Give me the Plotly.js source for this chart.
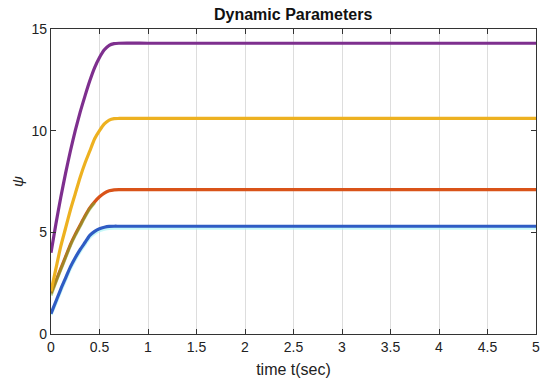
<!DOCTYPE html>
<html>
<head>
<meta charset="utf-8">
<script src="https://cdn.plot.ly/plotly-3.0.1.min.js"></script>
<style>html,body{margin:0;padding:0;background:#fff;}#chart{width:550px;height:390px;}</style>
</head>
<body>
<div id="chart"></div>
<script>
const time = [0, 0.05, 0.1, 0.15, 0.2, 0.25, 0.3, 0.35, 0.4, 0.45, 0.5, 0.55, 0.6, 0.65, 0.7, 1, 1.5, 2, 2.5, 3, 3.5, 4, 4.5, 5];
const psiBlue   = [1.0, 1.6, 2.2, 2.75, 3.3, 3.75, 4.15, 4.5, 4.85, 5.05, 5.18, 5.25, 5.29, 5.3, 5.3, 5.3, 5.3, 5.3, 5.3, 5.3, 5.3, 5.3, 5.3, 5.3];
const psiCyan   = [0.95, 1.5, 2.1, 2.65, 3.2, 3.65, 4.05, 4.4, 4.75, 4.95, 5.08, 5.15, 5.19, 5.2, 5.2, 5.2, 5.2, 5.2, 5.2, 5.2, 5.2, 5.2, 5.2, 5.2];
const psiRed    = [2.0, 2.6, 3.2, 3.8, 4.4, 4.9, 5.35, 5.8, 6.2, 6.5, 6.75, 6.93, 7.04, 7.09, 7.1, 7.1, 7.1, 7.1, 7.1, 7.1, 7.1, 7.1, 7.1, 7.1];
const timeGreen = [0, 0.05, 0.1, 0.15, 0.2, 0.25, 0.3, 0.35, 0.4, 0.45];
const psiGreen  = [1.9, 2.55, 3.15, 3.75, 4.35, 4.85, 5.3, 5.75, 6.15, 6.45];
const psiYellow = [2.1, 3.2, 4.3, 5.2, 6.1, 6.9, 7.7, 8.4, 9.0, 9.6, 10.0, 10.33, 10.52, 10.59, 10.6, 10.6, 10.6, 10.6, 10.6, 10.6, 10.6, 10.6, 10.6, 10.6];
const psiPurple = [4.0, 5.4, 6.7, 7.9, 9.0, 10.0, 10.9, 11.7, 12.45, 13.1, 13.6, 13.98, 14.2, 14.28, 14.3, 14.3, 14.3, 14.3, 14.3, 14.3, 14.3, 14.3, 14.3, 14.3];
const xTicks = [0, 0.5, 1, 1.5, 2, 2.5, 3, 3.5, 4, 4.5, 5];
const xTickText = ['0', '0.5', '1', '1.5', '2', '2.5', '3', '3.5', '4', '4.5', '5'];
const yTicks = [0, 5, 10, 15];

const lineShape = {shape: 'spline', smoothing: 0.6, width: 3.2};
const traces = [
  {x: time, y: psiCyan, mode: 'lines', line: Object.assign({color: '#aef5f5'}, lineShape), opacity: 0.7},
  {x: time, y: psiBlue, mode: 'lines', line: Object.assign({color: '#2f5cc4'}, lineShape)},
  {x: time, y: psiRed, mode: 'lines', line: Object.assign({color: '#d95319'}, lineShape)},
  {x: timeGreen, y: psiGreen, mode: 'lines', line: Object.assign({color: '#77ac30'}, lineShape), opacity: 0.55},
  {x: time, y: psiYellow, mode: 'lines', line: Object.assign({color: '#edb120'}, lineShape)},
  {x: time, y: psiPurple, mode: 'lines', line: Object.assign({color: '#7e2f8e'}, lineShape)}
];

const layout = {
  width: 550, height: 390,
  margin: {l: 51, r: 14, t: 29, b: 56},
  paper_bgcolor: '#fff', plot_bgcolor: '#fff',
  showlegend: false,
  font: {family: 'Liberation Sans, Arial, sans-serif', size: 14, color: '#222'},
  title: {text: '<b>Dynamic Parameters</b>', x: 0.533, xanchor: 'center', y: 0.962, yanchor: 'middle', font: {size: 16, color: '#111'}},
  xaxis: {
    range: [0, 5], tickvals: xTicks, ticktext: xTickText,
    ticks: 'inside', ticklen: 5, tickcolor: '#333', mirror: 'ticks',
    showline: true, linecolor: '#333', linewidth: 1.2,
    showgrid: true, gridcolor: '#dddddd', gridwidth: 1, zeroline: false,
    title: {text: 'time t(sec)', font: {size: 16}, standoff: 9}
  },
  yaxis: {
    range: [0, 15], tickvals: yTicks,
    ticks: 'inside', ticklen: 5, tickcolor: '#333', mirror: 'ticks',
    showline: true, linecolor: '#333', linewidth: 1.2,
    showgrid: false, zeroline: false,
    title: {text: '<i>ψ</i>', font: {size: 15}, standoff: 4}
  }
};

Plotly.newPlot('chart', traces, layout, {displayModeBar: false, staticPlot: true});
</script>
</body>
</html>
